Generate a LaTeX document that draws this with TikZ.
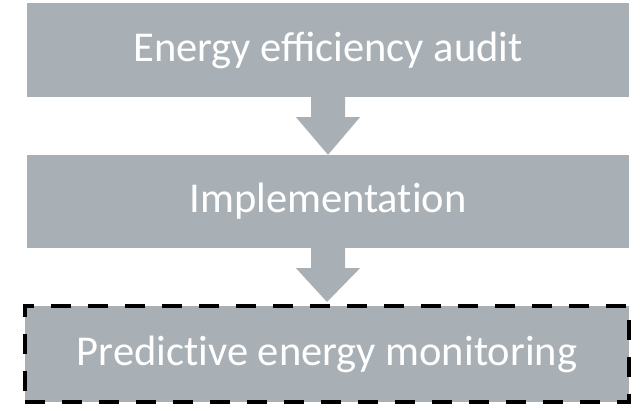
\documentclass[tikz,border=0pt]{standalone}
\usepackage{fontspec}
\setmainfont{Carlito}
\usetikzlibrary{calc}
\definecolor{boxgrey}{RGB}{169,176,181}
\tikzset{
  stagebox/.style={fill=boxgrey, draw=none, inner sep=0pt, minimum width=602pt,
    text=white, font=\fontsize{42.5}{50}\selectfont},
  dashedstage/.style={stagebox, draw=black, line width=4pt, dash pattern=on 20pt off 17pt},
  blockarrow/.style={fill=boxgrey, draw=none}
}
\begin{document}
\begin{tikzpicture}[x=1pt,y=1pt]
\useasboundingbox (0,0) rectangle (642,411);
\node[stagebox, minimum height=94pt] (a) at (328,361) {Energy efficiency audit};
\node[stagebox, minimum height=93pt] (b) at (328,209.5) {Implementat\kern0pt ion};
\node[dashedstage, minimum height=96pt, minimum width=604pt] (c) at (327,57) {Predict\kern0pt ive energy monitoring};
\fill[blockarrow] ([xshift=-17pt,yshift=1pt]a.south) -- ([xshift=17pt,yshift=1pt]a.south)
  -- ([xshift=17pt,yshift=-20pt]a.south) -- ([xshift=32pt,yshift=-20pt]a.south)
  -- (b.north) -- ([xshift=-32pt,yshift=-20pt]a.south)
  -- ([xshift=-17pt,yshift=-20pt]a.south) -- cycle;
\fill[blockarrow] ([xshift=-17pt,yshift=1pt]b.south) -- ([xshift=17pt,yshift=1pt]b.south)
  -- ([xshift=17pt,yshift=-20pt]b.south) -- ([xshift=32pt,yshift=-20pt]b.south)
  -- ([yshift=2pt]c.north) -- ([xshift=-32pt,yshift=-20pt]b.south)
  -- ([xshift=-17pt,yshift=-20pt]b.south) -- cycle;
\end{tikzpicture}
\end{document}
